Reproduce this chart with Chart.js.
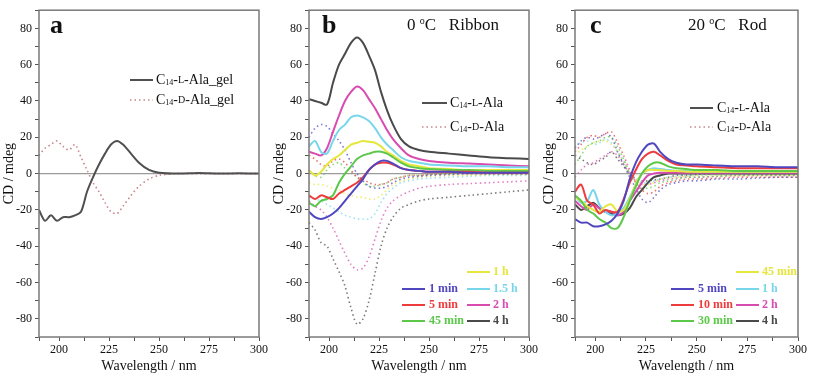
<!DOCTYPE html>
<html>
<head>
<meta charset="utf-8">
<script src="https://cdn.jsdelivr.net/npm/chart.js@4.4.0/dist/chart.umd.min.js"></script>
<style>
  body { margin: 0; background: #fff; width: 814px; height: 379px; overflow: hidden; position: relative; }
  canvas { position: absolute; top: 0; }
</style>
</head>
<body>
<canvas id="ca" width="270" height="379" style="left:0"></canvas>
<canvas id="cb" width="270" height="379" style="left:270px"></canvas>
<canvas id="cc" width="274" height="379" style="left:540px"></canvas>
<script>
// wavelengths shared by every curve (nm)
const wl = [190,193,196,199,202,205,208,211,214,217,220,223,226,229,232,236,240,245,250,260,270,280,290,300];
const xMajor = [200, 225, 250, 275, 300];
const xMinor = [190, 212.5, 237.5, 262.5, 287.5];

// panel a: gels
const aGelL = [-20,-26,-23,-26,-24,-24,-23,-21,-10,-2,5,11,16,18,16,11,6,2,0.5,0,0.3,0,0.2,0];
const aGelD = [10,14,16,18,15,13,16,9,2,-5,-10,-16,-21,-22,-18,-12,-7,-3,-1,0,0,0,0,0];

// panel b: 0 C ribbon
const bTimes = ['1 min', '5 min', '45 min', '1 h', '1.5 h', '2 h', '4 h'];
const bL1min  = [-21,-24,-25,-24,-22,-19,-15,-11,-7,-3,2,5,7,7,5.5,3,2,1.5,1,1,0.5,0.5,0.5,0.5];
const bL5min  = [-12,-14,-12,-13,-14,-11,-9,-7,-5,-2,2,5,6,6,5,3,2,1.5,1,1,1,0.5,0.5,0.5];
const bL45min = [-16,-18,-15,-14,-12,-5,0,4,8,10,11,12,12,11,9,6,4,3,2.5,2,2,1.5,1.5,1.5];
const bL1h    = [2,-1,1,5,8,10,13,16,17,18,17.5,17,15,12,10,7,5,4,3,2.5,2,2,2,2];
const bL15h   = [15,18,12,11,18,24,27,31,32,31,29,25,20,16,13,9,7,6,5,4.5,4,4,3.5,3.5];
const bL2h    = [12,11,10,14,23,32,40,45,48,46,41,36,30,24,19,14,10,8,7,6,5.5,5,4.5,4];
const bL4h    = [41,40,39,38,50,60,66,72,75,72,65,57,45,35,27,19,15,13,12,11,10,9,8.5,8];
const bD1min  = [20,25,27,26,22,18,13,6,0,-4,-7,-8,-8,-7,-5,-3,-2,-1.5,-1,-0.5,0,0,0,0];
const bD5min  = [10,8,5,4,7,8,6,2,-2,-3,-5,-6,-6,-5,-3,-2,-1,-1,-0.5,0,0,0,0,0];
const bD45min = [2,-1,-2,2,5,6,3,1,-2,-5,-7,-7,-6,-5,-3,-2,-1,-1,-0.5,0,0,0,0,0];
const bD1h    = [-5,-6,-6,-7,-8,-9,-11,-12,-13,-13,-14,-14,-12,-9,-6,-4,-3,-2,-1.5,-1,-1,-0.5,-0.5,-0.5];
const bD15h   = [-13,-14,-15,-17,-19,-21,-23,-24,-25,-25,-25,-22,-16,-11,-8,-5,-4,-3,-2.5,-2,-1.5,-1,-1,-1];
const bD2h    = [-15,-18,-20,-24,-30,-37,-44,-50,-53,-52,-46,-36,-26,-19,-15,-12,-10,-8,-7,-6,-5.5,-5,-4.5,-4];
const bD4h    = [-27,-31,-38,-40,-47,-54,-62,-74,-83,-80,-70,-55,-40,-30,-24,-19,-17,-15,-14,-13,-12,-11,-10,-9];

// panel c: 20 C rod
const cTimes = ['5 min', '10 min', '30 min', '45 min', '1 h', '2 h', '4 h'];
const cL5min  = [-25,-27,-27,-29,-29,-28,-26,-22,-15,-3,6,12,16,16.5,12,8,6,5,5,4.5,4,4,3.5,3.5];
const cL10min = [-10,-6,-15,-17,-22,-20,-21,-21,-14,-5,2,8,11,12,10,7,5,4.5,4,3.5,3,3,3,3];
const cL30min = [-12,-15,-20,-22,-25,-27,-30,-30,-24,-15,-7,0,4,6,6,4,3,2.5,2,2,1.5,1.5,1.5,1.5];
const cL45min = [-13,-15,-18,-20,-21,-18,-17,-21,-20,-14,-6,0,2,2,2,1.5,1.5,1,1,1,1,1,1,1];
const cL1h    = [-12,-16,-15,-9,-17,-21,-23,-22,-19,-13,-6,0,2,3,2.5,2,1.5,1.5,1,1,1,1,1,1];
const cL2h    = [-15,-18,-20,-17,-19,-21,-21,-23,-21,-15,-10,-5,-1,0,0.5,0.5,0.5,0.5,0.5,0.5,0.5,0.5,0.5,0.5];
const cL4h    = [-17,-20,-18,-16,-19,-21,-22,-23,-22,-19,-13,-9,-5,-2,-1,0,0,0,0,0,0,0,0,0];
const cD5min  = [14,18,20,19,20,22,20,12,5,-2,-8,-14,-16,-13,-9,-6,-5,-4,-4,-3,-3,-2.5,-2,-2];
const cD10min = [12,16,20,21,20,22,23,17,10,2,-5,-9,-11,-10,-7,-5,-4,-3,-3,-2.5,-2,-2,-2,-2];
const cD30min = [5,10,15,17,18,20,20,15,8,0,-5,-8,-8,-7,-5,-4,-3,-2,-2,-1.5,-1,-1,-1,-1];
const cD45min = [10,13,15,17,18,18,16,12,6,0,-4,-6,-6,-5,-3,-2.5,-2,-1.5,-1,-1,-1,-1,-1,-1];
const cD1h    = [15,17,18,16,17,19,17,12,7,1,-3,-5,-5,-4,-3,-2,-1.5,-1,-1,-0.5,-0.5,-0.5,-0.5,-0.5];
const cD2h    = [-2,2,5,6,8,10,12,10,5,0,-4,-6,-6,-5,-4,-3,-2.5,-2,-2,-1.5,-1,-1,-1,-1];
const cD4h    = [10,8,6,5,7,9,12,8,4,0,-3,-4,-4,-3.5,-3,-2,-1,-1,-0.5,0,0,0,0,0];

const timeColors = ['#5046c0', '#ee3c3c', '#5cc84a', '#e6e63c', '#78d6ea', '#d84cb0', '#4a4a4a'];
const FONT = '"Liberation Serif", "Times New Roman", serif';

const pts = arr => wl.map((x, i) => ({ x, y: arr[i] }));

function richText(ctx, x, y, parts, color, weight) {
    ctx.fillStyle = color;
    ctx.textBaseline = 'middle';
    ctx.textAlign = 'left';
    for (const [t, size, dy] of parts) {
        ctx.font = `${weight || 'normal'} ${size}px ${FONT}`;
        ctx.fillText(t, x, y + dy);
        x += ctx.measureText(t).width;
    }
}

const labelL = suffix => [['C', 14, 0], ['14', 8, 3], ['-', 14, 0], ['L', 10, 0.5], ['-Ala' + suffix, 14, 0]];
const labelD = suffix => [['C', 14, 0], ['14', 8, 3], ['-', 14, 0], ['D', 10, 0.5], ['-Ala' + suffix, 14, 0]];

// zero line, frame, panel letter, heading and legends
const panelDeco = {
    id: 'panelDeco',
    beforeDatasetsDraw(chart) {
        const { ctx, chartArea: a, scales: { y } } = chart;
        const y0 = y.getPixelForValue(0);
        ctx.save();
        ctx.strokeStyle = '#9a9a9a';
        ctx.lineWidth = 1.2;
        ctx.beginPath();
        ctx.moveTo(a.left, y0);
        ctx.lineTo(a.right, y0);
        ctx.stroke();
        ctx.restore();
    },
    afterDraw(chart, args, o) {
        const { ctx, chartArea: a } = chart;
        ctx.save();
        ctx.strokeStyle = '#7a7a7a';
        ctx.lineWidth = 1.5;
        ctx.strokeRect(a.left, a.top, a.right - a.left, a.bottom - a.top);

        ctx.fillStyle = '#111';
        ctx.font = `bold 26px ${FONT}`;
        ctx.textBaseline = 'alphabetic';
        ctx.fillText(o.letter, o.letterX, 33);

        if (o.heading) richText(ctx, o.headingX, 26, o.heading, '#111');

        for (const it of o.items) {
            ctx.strokeStyle = it.color;
            ctx.lineWidth = it.dash ? 1.5 : 2;
            ctx.setLineDash(it.dash || []);
            ctx.beginPath();
            ctx.moveTo(it.x1, it.y);
            ctx.lineTo(it.x2, it.y);
            ctx.stroke();
            ctx.setLineDash([]);
            richText(ctx, it.tx, it.y, it.parts, it.textColor || '#111', it.weight);
        }
        ctx.restore();
    }
};

function baseOptions(yWidth, rightPad, deco) {
    return {
        responsive: false,
        animation: false,
        layout: { padding: { top: 10, right: rightPad, left: 0, bottom: 0 } },
        elements: { point: { radius: 0 }, line: { tension: 0.3 } },
        scales: {
            x: {
                type: 'linear', min: 190, max: 300,
                border: { display: false },
                grid: { drawOnChartArea: false, tickLength: 4, color: '#555' },
                afterBuildTicks: s => { s.ticks = xMinor.concat(xMajor).sort((p, q) => p - q).map(v => ({ value: v })); },
                afterFit: s => { s.height = 42; },
                ticks: {
                    autoSkip: false, maxRotation: 0, padding: 2, color: '#111',
                    font: { family: FONT, size: 12 },
                    callback: v => xMajor.includes(v) ? String(v) : ''
                },
                title: { display: true, text: 'Wavelength / nm', color: '#111',
                    font: { family: FONT, size: 14 }, padding: { top: 0, bottom: 4 } }
            },
            y: {
                min: -90, max: 90,
                border: { display: false },
                grid: { drawOnChartArea: false, tickLength: 4, color: '#555' },
                afterFit: s => { s.width = yWidth; },
                ticks: {
                    stepSize: 10, autoSkip: false, padding: 3, color: '#111',
                    font: { family: FONT, size: 12 },
                    callback: v => (v % 20 === 0 && Math.abs(v) <= 80) ? String(v) : ''
                },
                title: { display: true, text: 'CD / mdeg', color: '#111',
                    font: { family: FONT, size: 14 }, padding: { top: 1, bottom: 0 } }
            }
        },
        plugins: { legend: { display: false }, tooltip: { enabled: false }, panelDeco: deco }
    };
}

function solid(arr, color) {
    return { data: pts(arr), borderColor: color, borderWidth: 2, fill: false };
}
function dotted(arr, color) {
    return { data: pts(arr), borderColor: color, borderWidth: 1.6, borderDash: [1.5, 3], fill: false };
}

function timeItems(times, off) {
    const cols = [[132, 155, 159], [197, 220, 223]];
    const rows = [272, 289, 305, 321];
    const place = [[0, 1], [0, 2], [0, 3], [1, 0], [1, 1], [1, 2], [1, 3]];
    return times.map((t, i) => {
        const [c, r] = place[i];
        const col = cols[c];
        return { x1: col[0] - off, x2: col[1] - off, tx: col[2] - off, y: rows[r],
            color: timeColors[i], textColor: timeColors[i], weight: 'bold', parts: [[t, 12, 0]] };
    });
}

// panel a
new Chart(document.getElementById('ca'), {
    type: 'line',
    data: { datasets: [solid(aGelL, '#505050'), dotted(aGelD, '#c8868a')] },
    options: baseOptions(39, 11, {
        letter: 'a', letterX: 50,
        items: [
            { x1: 130, x2: 153, tx: 156, y: 80, color: '#505050', parts: labelL('_gel') },
            { x1: 130, x2: 153, tx: 156, y: 100, color: '#c8868a', dash: [1.5, 3], parts: labelD('_gel') }
        ]
    }),
    plugins: [panelDeco]
});

// panel b
const bSolid = [bL1min, bL5min, bL45min, bL1h, bL15h, bL2h, bL4h];
const bDotted = [bD1min, bD5min, bD45min, bD1h, bD15h, bD2h, bD4h];
new Chart(document.getElementById('cb'), {
    type: 'line',
    data: { datasets: bSolid.map((s, i) => solid(s, timeColors[i]))
        .concat(bDotted.map((s, i) => dotted(s, timeColors[i] + 'bb'))) },
    options: baseOptions(39, 11, {
        letter: 'b', letterX: 52,
        heading: [['0 ', 17, 0], ['o', 10, -5], ['C   Ribbon', 17, 0]], headingX: 137,
        items: [
            { x1: 152, x2: 177, tx: 180, y: 103, color: '#505050', parts: labelL('') },
            { x1: 152, x2: 177, tx: 180, y: 127, color: '#c8868a', dash: [1.5, 3], parts: labelD('') }
        ].concat(timeItems(bTimes, 0))
    }),
    plugins: [panelDeco]
});

// panel c
const cSolid = [cL5min, cL10min, cL30min, cL45min, cL1h, cL2h, cL4h];
const cDotted = [cD5min, cD10min, cD30min, cD45min, cD1h, cD2h, cD4h];
new Chart(document.getElementById('cc'), {
    type: 'line',
    data: { datasets: cSolid.map((s, i) => solid(s, timeColors[i]))
        .concat(cDotted.map((s, i) => dotted(s, timeColors[i] + 'bb'))) },
    options: baseOptions(35, 16, {
        letter: 'c', letterX: 50,
        heading: [['20 ', 17, 0], ['o', 10, -5], ['C   Rod', 17, 0]], headingX: 148,
        items: [
            { x1: 150, x2: 173, tx: 177, y: 108, color: '#505050', parts: labelL('') },
            { x1: 150, x2: 173, tx: 177, y: 127, color: '#c8868a', dash: [1.5, 3], parts: labelD('') }
        ].concat(timeItems(cTimes, 1))
    }),
    plugins: [panelDeco]
});
</script>
</body>
</html>
